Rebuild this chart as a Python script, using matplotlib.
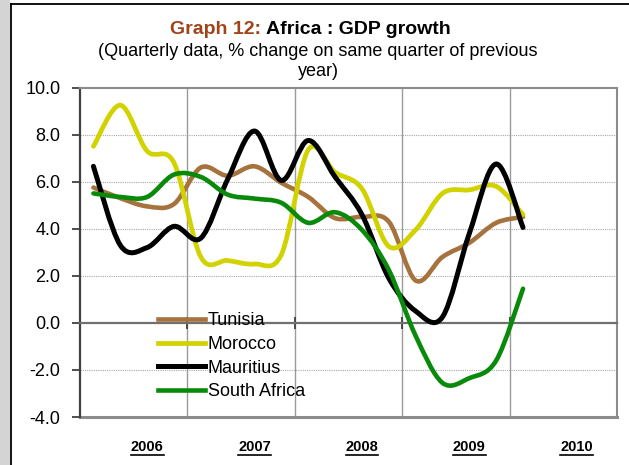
import matplotlib
matplotlib.use("Agg")
import matplotlib.pyplot as plt
from matplotlib.path import Path
from matplotlib.patches import PathPatch, Rectangle
from matplotlib.lines import Line2D
import numpy as np

plt.rcParams['font.family'] = ['Liberation Sans', 'DejaVu Sans']

# quarterly data, 2006Q1 .. 2010Q1
quarters = list(range(17))
tunisia = [5.75, 5.3, 4.95, 5.05, 6.6, 6.25, 6.65, 5.95, 5.35, 4.45, 4.5, 4.3, 1.8, 2.8, 3.4, 4.25, 4.5]
morocco = [7.5, 9.25, 7.3, 6.8, 2.8, 2.65, 2.5, 2.9, 7.35, 6.4, 5.7, 3.25, 3.95, 5.5, 5.65, 5.8, 4.6]
mauritius = [6.65, 3.3, 3.2, 4.1, 3.6, 6.1, 8.15, 6.05, 7.75, 6.2, 4.6, 1.9, 0.5, 0.25, 3.8, 6.75, 4.05]
south_africa = [5.5, 5.35, 5.35, 6.3, 6.2, 5.45, 5.28, 5.1, 4.25, 4.7, 3.95, 2.25, -0.55, -2.55, -2.35, -1.6, 1.45]
years = ['2006', '2007', '2008', '2009', '2010']

series = [
    ("Tunisia", tunisia, '#a6733f', 3.3),
    ("Morocco", morocco, '#d2d200', 3.4),
    ("Mauritius", mauritius, '#000000', 3.6),
    ("South Africa", south_africa, '#0a8a0a', 3.3),
]


def smooth_path(xs, ys):
    # excel style smoothed line: bezier segments through the points
    pts = np.column_stack([xs, ys]).astype(float)
    verts = [pts[0]]
    codes = [Path.MOVETO]
    n = len(pts)
    for i in range(n - 1):
        p0 = pts[max(i - 1, 0)]
        p1 = pts[i]
        p2 = pts[i + 1]
        p3 = pts[min(i + 2, n - 1)]
        c1 = p1 + (p2 - p0) / 6.0
        c2 = p2 - (p3 - p1) / 6.0
        verts += [c1, c2, p2]
        codes += [Path.CURVE4] * 3
    return Path(verts, codes)


W, H = 629, 465
fig = plt.figure(figsize=(W / 100, H / 100), dpi=100)

# page frame
fig.patches.append(Rectangle((0, 0), 9 / W, 1, transform=fig.transFigure, color='#d4d4d4', zorder=0))
fig.lines.append(Line2D([11 / W, 11 / W], [0, 1 - 4 / H], transform=fig.transFigure, color='black', lw=1.3))
fig.lines.append(Line2D([11 / W, 1], [1 - 4 / H, 1 - 4 / H], transform=fig.transFigure, color='black', lw=1.3))

ax = fig.add_axes([80 / W, 1 - 417 / H, 537 / W, 329.5 / H])
ax.set_xlim(0, 20)
ax.set_ylim(-4, 10)

xs = [q + 0.5 for q in quarters]
for name, vals, col, lw in series:
    patch = PathPatch(smooth_path(xs, vals), fill=False, edgecolor=col, lw=lw,
                      capstyle='round', joinstyle='round', zorder=3)
    ax.add_patch(patch)

# grid
ax.set_yticks(range(-4, 11, 2))
ax.set_yticklabels(['%.1f' % v for v in range(-4, 11, 2)], fontsize=13)
for v in [-2, 2, 4, 6, 8]:
    ax.axhline(v, color='#a8a8a8', lw=0.8, ls=(0, (1, 1)), zorder=1)
for v in [4, 8, 12, 16]:
    ax.axvline(v, color='#9a9a9a', lw=1.0, zorder=1)

ax.spines['left'].set_color('#404040')
ax.spines['left'].set_linewidth(1.6)
for s in ['top', 'right']:
    ax.spines[s].set_color('#8c8c8c')
    ax.spines[s].set_linewidth(1.5)
ax.spines['bottom'].set_position(('data', 0))
ax.spines['bottom'].set_color('#707070')
ax.spines['bottom'].set_linewidth(1.6)
ax.axhline(-4, color='#8c8c8c', lw=2.2, clip_on=False, zorder=2)

ax.set_xticks(range(0, 21, 4))
ax.tick_params(axis='x', direction='inout', length=9, width=1.3, color='#404040', labelbottom=False)
ax.tick_params(axis='y', direction='out', length=6, width=1.3, color='#404040', pad=8)

# year labels under the plot
year_texts = []
for i, y in enumerate(years):
    t = ax.text(i * 4 + 2.5, -0.09, y, transform=ax.get_xaxis_transform(), ha='center', va='center',
                fontsize=10.5, fontweight='bold', family=['Liberation Sans Narrow', 'Liberation Sans'])
    year_texts.append(t)

# legend
handles = [Line2D([], [], color=col, lw=lw) for name, vals, col, lw in series]
ax.legend(handles, [s[0] for s in series], loc='upper left', bbox_to_anchor=(0.145, 0.318),
          frameon=False, fontsize=13, handlelength=2.6, handletextpad=0.15,
          labelspacing=0.37, borderpad=0, borderaxespad=0)

# title
fig.text(266 / W, 1 - 30 / H, "Graph 12: ", color='#a0441a', fontsize=14, fontweight='bold',
         ha='right', va='center')
fig.text(266 / W, 1 - 30 / H, "Africa : GDP growth", color='black', fontsize=14, fontweight='bold',
         ha='left', va='center')
fig.text(318 / W, 1 - 52 / H, "(Quarterly data, % change on same quarter of previous", fontsize=13,
         ha='center', va='center')
fig.text(318 / W, 1 - 72 / H, "year)", fontsize=13, ha='center', va='center')

# underline the year labels
fig.canvas.draw()
r = fig.canvas.get_renderer()
for t in year_texts:
    bb = t.get_window_extent(r)
    yline = (bb.y0 - 1.5) / H
    fig.lines.append(Line2D([bb.x0 / W, bb.x1 / W], [yline, yline], transform=fig.transFigure,
                            color='black', lw=1.2))

fig.savefig("out.png", dpi=100)
